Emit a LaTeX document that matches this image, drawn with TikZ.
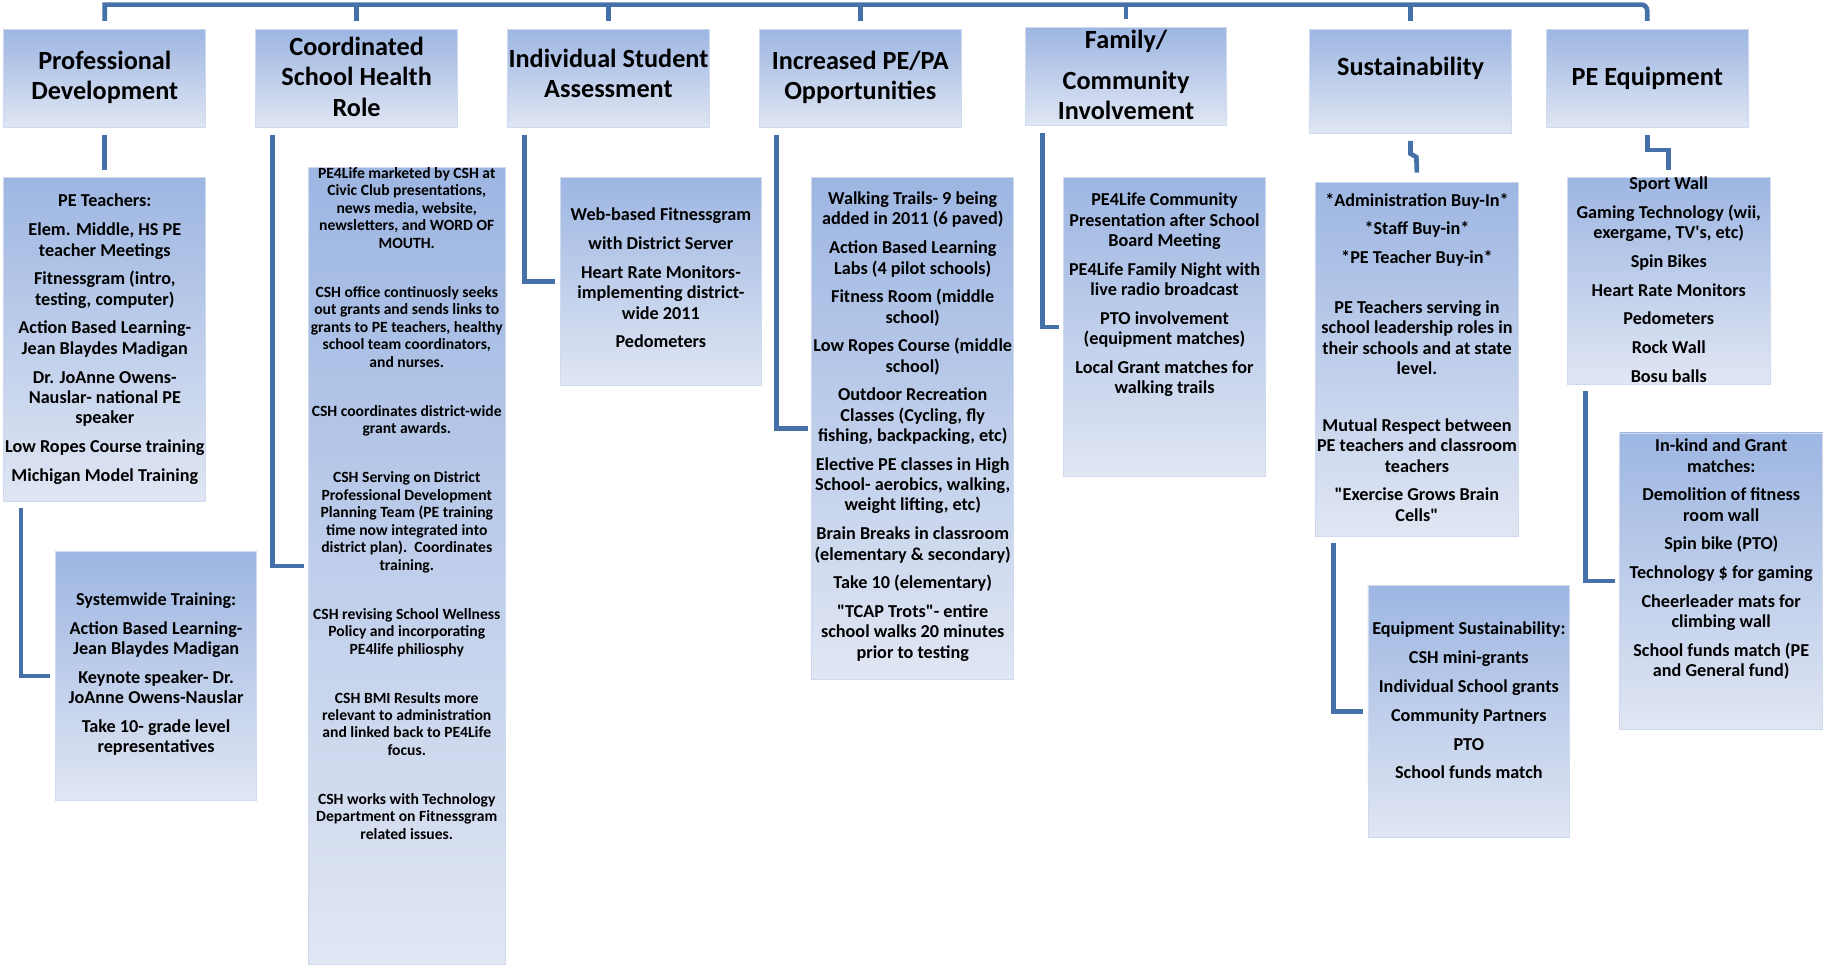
\documentclass[tikz,border=0pt]{standalone}
\usepackage{fontspec}
\setmainfont{Carlito}
\usetikzlibrary{calc}
\definecolor{linecol}{RGB}{70,112,168}
\definecolor{boxtop}{RGB}{157,182,226}
\definecolor{boxbot}{RGB}{224,230,243}
\definecolor{boxedge}{RGB}{208,218,238}
\begin{document}
\begin{tikzpicture}[x=1pt,y=-1pt,
  box/.style={anchor=north west, inner sep=0pt, top color=boxtop, bottom color=boxbot, draw=boxedge, line width=0.8pt},
  hd/.style={font=\fontsize{22.5}{26}\selectfont\bfseries, align=center, anchor=north, inner sep=0pt},
  txt/.style={font=\fontsize{15.6}{17.4}\selectfont\bfseries, align=center, anchor=north, inner sep=0pt},
  small/.style={font=\fontsize{13.4}{15}\selectfont\bfseries, align=center, anchor=north, inner sep=0pt},
  conn/.style={draw=linecol, line width=4pt},
]
\useasboundingbox (0,0) rectangle (1568,827);

% headers
\node[box, minimum width=173pt, minimum height=84pt] (h1) at (3,25) {};
\node[box, minimum width=173pt, minimum height=84pt] (h2) at (219,25) {};
\node[box, minimum width=173pt, minimum height=84pt] (h3) at (435,25) {};
\node[box, minimum width=173pt, minimum height=84pt] (h4) at (651,25) {};
\node[box, minimum width=173pt, minimum height=84pt] (h5) at (879,23) {};
\node[box, minimum width=173pt, minimum height=89pt] (h6) at (1123,25) {};
\node[box, minimum width=173pt, minimum height=84pt] (h7) at (1326,25) {};

\node[hd] (h1t) at ($(h1.north)+(0,18.6)$) {Professional\\Development};
\node[hd] (h2t) at ($(h2.north)+(0,6.6)$) {Coordinated\\School Health\\Role};
\node[hd] (h3t) at ($(h3.north)+(0,16.6)$) {Individual Student\\Assessment};
\node[hd] (h4t) at ($(h4.north)+(0,18.6)$) {Increased PE/PA\\Opportunities};
\node[hd] (h5t) at ($(h5.north)+(0,2.6)$) {Family/\\[9pt]Community\\Involvement};
\node[hd] (h6t) at ($(h6.north)+(0,23.6)$) {Sustainability};
\node[hd] (h7t) at ($(h7.north)+(0,32.6)$) {PE Equipment};

% content boxes
\node[box, minimum width=173pt, minimum height=278pt] (c1) at (3,152) {};
\node[box, minimum width=173pt, minimum height=213pt] (s1) at (47,473) {};
\node[box, minimum width=169pt, minimum height=684pt] (c2) at (264,143) {};
\node[box, minimum width=173pt, minimum height=178pt] (c3) at (480,152) {};
\node[box, minimum width=173pt, minimum height=430pt] (c4) at (696,152) {};
\node[box, minimum width=173pt, minimum height=256pt] (c5) at (912,152) {};
\node[box, minimum width=174pt, minimum height=304pt] (c6) at (1128,156) {};
\node[box, minimum width=173pt, minimum height=216pt] (s6) at (1173,502) {};
\node[box, minimum width=174pt, minimum height=177pt] (c7) at (1344,152) {};
\node[box, minimum width=174pt, minimum height=254pt] (s7) at (1389,371) {};

\node[txt] (c1t) at ($(c1.north)+(0,14.4)$) {PE Teachers:\\[7.3pt]Elem. Middle, HS PE\\teacher Meetings\\[7.3pt]Fitnessgram (intro,\\testing, computer)\\[7.3pt]Action Based Learning-\\Jean Blaydes Madigan\\[7.3pt]Dr. JoAnne Owens-\\Nauslar- national PE\\speaker\\[7.3pt]Low Ropes Course training\\[7.3pt]Michigan Model Training};
\node[txt] (s1t) at ($(s1.north)+(0,35.4)$) {Systemwide Training:\\[7.3pt]Action Based Learning-\\Jean Blaydes Madigan\\[7.3pt]Keynote speaker- Dr.\\JoAnne Owens-Nauslar\\[7.3pt]Take 10- grade level\\representatives};
\node[small] (c2t) at ($(c2.north)+(0,0.4)$) {PE4Life marketed by CSH at\\Civic Club presentations,\\news media, website,\\newsletters, and WORD OF\\MOUTH.\\[27pt]CSH office continuosly seeks\\out grants and sends links to\\grants to PE teachers, healthy\\school team coordinators,\\and nurses.\\[27pt]CSH coordinates district-wide\\grant awards.\\[27pt]CSH Serving on District\\Professional Development\\Planning Team (PE training\\time now integrated into\\district plan).\ \ Coordinates\\training.\\[27pt]CSH revising School Wellness\\Policy and incorporating\\PE4life philiosphy\\[27pt]CSH BMI Results more\\relevant to administration\\and linked back to PE4Life\\focus.\\[27pt]CSH works with Technology\\Department on Fitnessgram\\related issues.};
\node[txt] (c3t) at ($(c3.north)+(0,26.4)$) {Web-based Fitnessgram\\[7.3pt]with District Server\\[7.3pt]Heart Rate Monitors-\\implementing district-\\wide 2011\\[7.3pt]Pedometers};
\node[txt] (c4t) at ($(c4.north)+(0,12.4)$) {Walking Trails- 9 being\\added in 2011 (6 paved)\\[7.3pt]Action Based Learning\\Labs (4 pilot schools)\\[7.3pt]Fitness Room (middle\\school)\\[7.3pt]Low Ropes Course (middle\\school)\\[7.3pt]Outdoor Recreation\\Classes (Cycling, fly\\fishing, backpacking, etc)\\[7.3pt]Elective PE classes in High\\School- aerobics, walking,\\weight lifting, etc)\\[7.3pt]Brain Breaks in classroom\\(elementary \& secondary)\\[7.3pt]Take 10 (elementary)\\[7.3pt]\textquotedbl TCAP Trots\textquotedbl- entire\\school walks 20 minutes\\prior to testing};
\node[txt] (c5t) at ($(c5.north)+(0,13.4)$) {PE4Life Community\\Presentation after School\\Board Meeting\\[7.3pt]PE4Life Family Night with\\live radio broadcast\\[7.3pt]PTO involvement\\(equipment matches)\\[7.3pt]Local Grant matches for\\walking trails};
\node[txt] (c6t) at ($(c6.north)+(0,9.4)$) {*Administration Buy-In*\\[7.3pt]*Staff Buy-in*\\[7.3pt]*PE Teacher Buy-in*\\[25.5pt]PE Teachers serving in\\school leadership roles in\\their schools and at state\\level.\\[31.5pt]Mutual Respect between\\PE teachers and classroom\\teachers\\[7.3pt]\textquotedbl Exercise Grows Brain\\Cells\textquotedbl};
\node[txt] (s6t) at ($(s6.north)+(0,31.4)$) {Equipment Sustainability:\\[7.3pt]CSH mini-grants\\[7.3pt]Individual School grants\\[7.3pt]Community Partners\\[7.3pt]PTO\\[7.3pt]School funds match};
\node[txt] (c7t) at ($(c7.north)+(0,-0.6)$) {Sport Wall\\[7.3pt]Gaming Technology (wii,\\exergame, TV\textquotesingle s, etc)\\[7.3pt]Spin Bikes\\[7.3pt]Heart Rate Monitors\\[7.3pt]Pedometers\\[7.3pt]Rock Wall\\[7.3pt]Bosu balls};
\node[txt] (s7t) at ($(s7.north)+(0,5.4)$) {In-kind and Grant\\matches:\\[7.3pt]Demolition of fitness\\room wall\\[7.3pt]Spin bike (PTO)\\[7.3pt]Technology \$ for gaming\\[7.3pt]Cheerleader mats for\\climbing wall\\[7.3pt]School funds match (PE\\and General fund)};

% top bar and drops
\coordinate (hub) at (758,4);
\draw[conn] ($(h1.north)+(0,-7)$) |- (hub) [rounded corners=5pt] -| ($(h7.north)+(0,-7)$);
\foreach \h in {h2,h3,h4,h5,h6}{
  \draw[conn] (\h.north |- hub) -- ($(\h.north)+(0,-7)$);
}

% elbow connectors
\draw[conn] ($(h1.south)+(0,6)$) -- ($(c1.north)+(0,-6)$);
\draw[conn] ($(c1.south west)+(15,5)$) |- ($(s1.west)+(-4,0)$);
\draw[conn] ($(h2.south west)+(15,6)$) |- ($(c2.west)+(-3,0)$);
\draw[conn] ($(h3.south west)+(15,6)$) |- ($(c3.west)+(-4,0)$);
\draw[conn] ($(h4.south west)+(15,6)$) |- ($(c4.west)+(-3,0)$);
\draw[conn] ($(h5.south west)+(15,6)$) |- ($(c5.west)+(-4,0)$);
\draw[conn] ($(h6.south)+(0,6)$) -- ++(0,11) -- ++(5,3) -- ($(c6.north)+(0,-8)$);
\draw[conn] ($(c6.south west)+(16,5)$) |- ($(s6.west)+(-4,0)$);
\draw[conn] ($(h7.south)+(0,6)$) -- ++(0,13) -| ($(c7.north)+(0,-6)$);
\draw[conn] ($(c7.south west)+(16,6)$) |- ($(s7.west)+(-4,0)$);
\end{tikzpicture}
\end{document}
